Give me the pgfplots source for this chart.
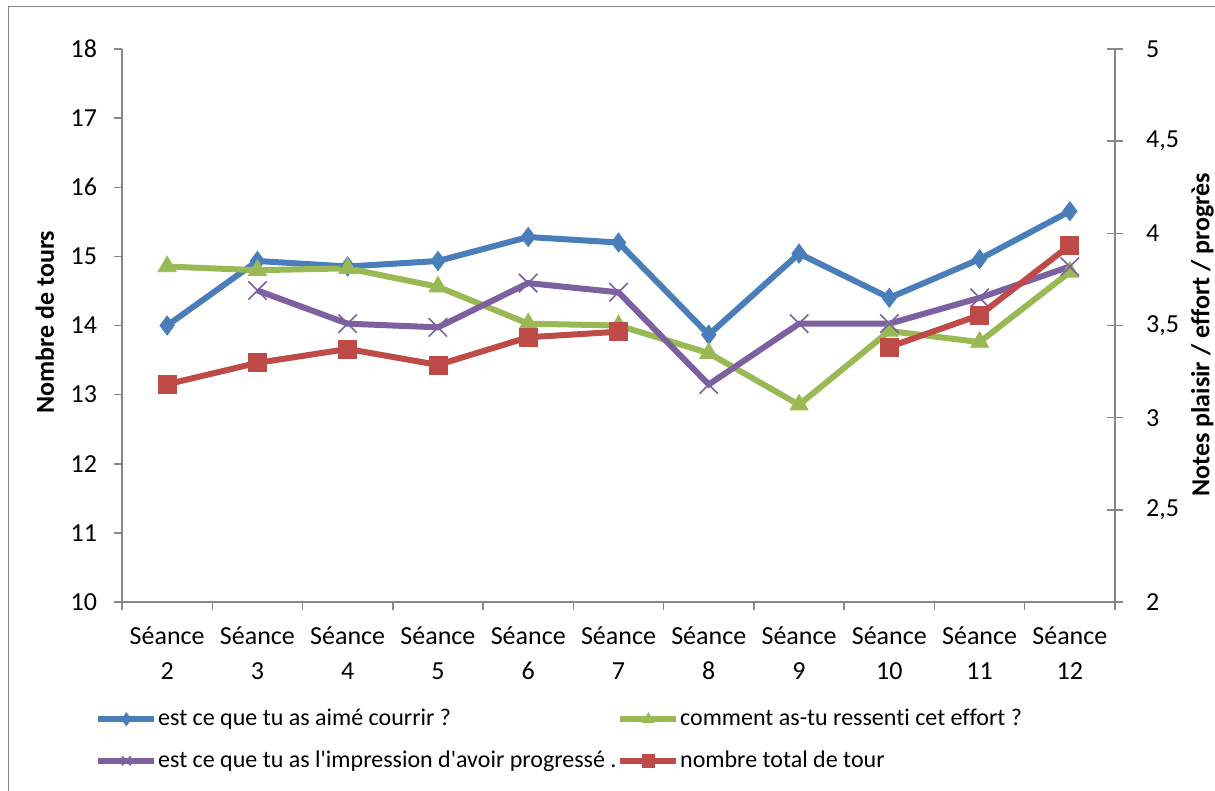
\documentclass[border=0pt]{standalone}
\usepackage{pgfplots}
\pgfplotsset{compat=1.18}
\usepackage{fontspec}
\setmainfont{Carlito}[Ligatures=NoCommon]
\definecolor{cblue}{HTML}{4A7EBB}
\definecolor{cgreen}{HTML}{98B954}
\definecolor{cpurple}{HTML}{7D60A0}
\definecolor{cred}{HTML}{BE4B48}
\definecolor{axgray}{HTML}{878787}
\pgfplotsset{
  common/.style={
    at={(61pt,-301pt)}, anchor=south west, scale only axis,
    width=496.5pt, height=276.5pt, xmin=-0.5, xmax=10.5,
    axis line style={axgray, line width=0.75pt},
    tick style={axgray, line width=0.75pt},
    ticklabel style={font=\fontsize{13}{17.5}\selectfont, text=black},
    /pgf/number format/assume math mode=true,
    /pgf/number format/use comma,
    clip=false,
  },
  blues/.style={cblue, line width=3pt, mark=diamond*, mark size=4.8pt, mark options={solid, line width=0.4pt, fill=cblue}},
  greens/.style={cgreen, line width=3pt, mark=triangle*, mark size=5.2pt, mark options={solid, line width=0.4pt, fill=cgreen}},
  purples/.style={cpurple, line width=3pt, mark=x, mark size=6.5pt, mark options={solid, line width=0.8pt}},
  reds/.style={cred, line width=3pt, mark=square*, mark size=4.5pt, mark options={solid, line width=0.4pt, fill=cred}},
  legend image code/.code={\draw[mark repeat=2,mark phase=2] plot coordinates {(0pt,0pt)(14pt,0pt)(28pt,0pt)};},
}
\begin{document}
\begin{tikzpicture}
\useasboundingbox (0,0) rectangle (607.5pt,-395.5pt);
\clip (0,0) rectangle (607.5pt,-395.5pt);
\draw[axgray, line width=0.75pt] (4.25pt,-3.25pt) rectangle (640pt,-420pt);

% right axis: notes
\begin{axis}[common,
  axis x line=none, axis y line*=right,
  ymin=2, ymax=5, ytick={2,2.5,...,5},
  tick align=center, major tick length=8pt,
  ylabel={Notes plaisir / effort / progrès},
  ylabel style={font=\fontsize{13}{15}\selectfont\bfseries, at={(axis description cs:1.088,0.483)}, anchor=center, rotate=0},
  yticklabel style={xshift=8pt},
]
\addplot[blues] coordinates {(0,3.50)(1,3.85)(2,3.82)(3,3.85)(4,3.98)(5,3.95)(6,3.45)(7,3.89)(8,3.65)(9,3.86)(10,4.12)};
\addplot[greens] coordinates {(0,3.82)(1,3.80)(2,3.81)(3,3.71)(4,3.51)(5,3.50)(6,3.35)(7,3.07)(8,3.47)(9,3.41)(10,3.79)};
\addplot[purples] coordinates {(1,3.69)(2,3.51)(3,3.49)(4,3.73)(5,3.68)(6,3.18)(7,3.51)(8,3.51)(9,3.65)(10,3.82)};
\end{axis}

% left axis: nombre de tours
\begin{axis}[common,
  axis x line*=bottom, axis y line*=left,
  ymin=10, ymax=18, ytick={10,...,18},
  tick align=outside, major tick length=4pt,
  xtick={0,...,10},
  xticklabels={{Séance\\2},{Séance\\3},{Séance\\4},{Séance\\5},{Séance\\6},{Séance\\7},{Séance\\8},{Séance\\9},{Séance\\10},{Séance\\11},{Séance\\12}},
  xticklabel style={align=center, yshift=-5pt},
  major x tick style={draw=none},
  minor xtick={-0.5,0.5,...,10.5},
  minor x tick style={draw=axgray},
  minor tick length=4pt,
  ylabel={Nombre de tours},
  ylabel style={font=\fontsize{13}{15}\selectfont\bfseries, at={(axis description cs:-0.0777,0.506)}, anchor=center},
  yticklabel style={xshift=-5pt},
  unbounded coords=jump,
  legend columns=2,
  legend cell align=left,
  legend style={at={(axis description cs:-0.0272,-0.19)}, anchor=north west, draw=none, fill=none,
    font=\fontsize{12}{15}\selectfont, column sep=0pt, row sep=9pt, inner sep=0pt,
    nodes={inner xsep=0.4pt, inner ysep=1pt, anchor=west}},
  every legend image post/.append style={mark size=3.2pt},
]
\addlegendimage{blues}
\addlegendentry{est ce que tu as aimé courrir ?}
\addlegendimage{greens}
\addlegendentry{comment as-tu ressenti cet effort ?}
\addlegendimage{purples, mark size=4.5pt}
\addlegendentry{est ce que tu as l\textquotesingle impression d\textquotesingle avoir progressé .}
\addplot[reds] coordinates {(0,13.15)(1,13.46)(2,13.66)(3,13.43)(4,13.83)(5,13.91)(6,nan)(7,nan)(8,13.69)(9,14.15)(10,15.16)};
\addlegendentry{nombre total de tour}
\end{axis}
\end{tikzpicture}
\end{document}
